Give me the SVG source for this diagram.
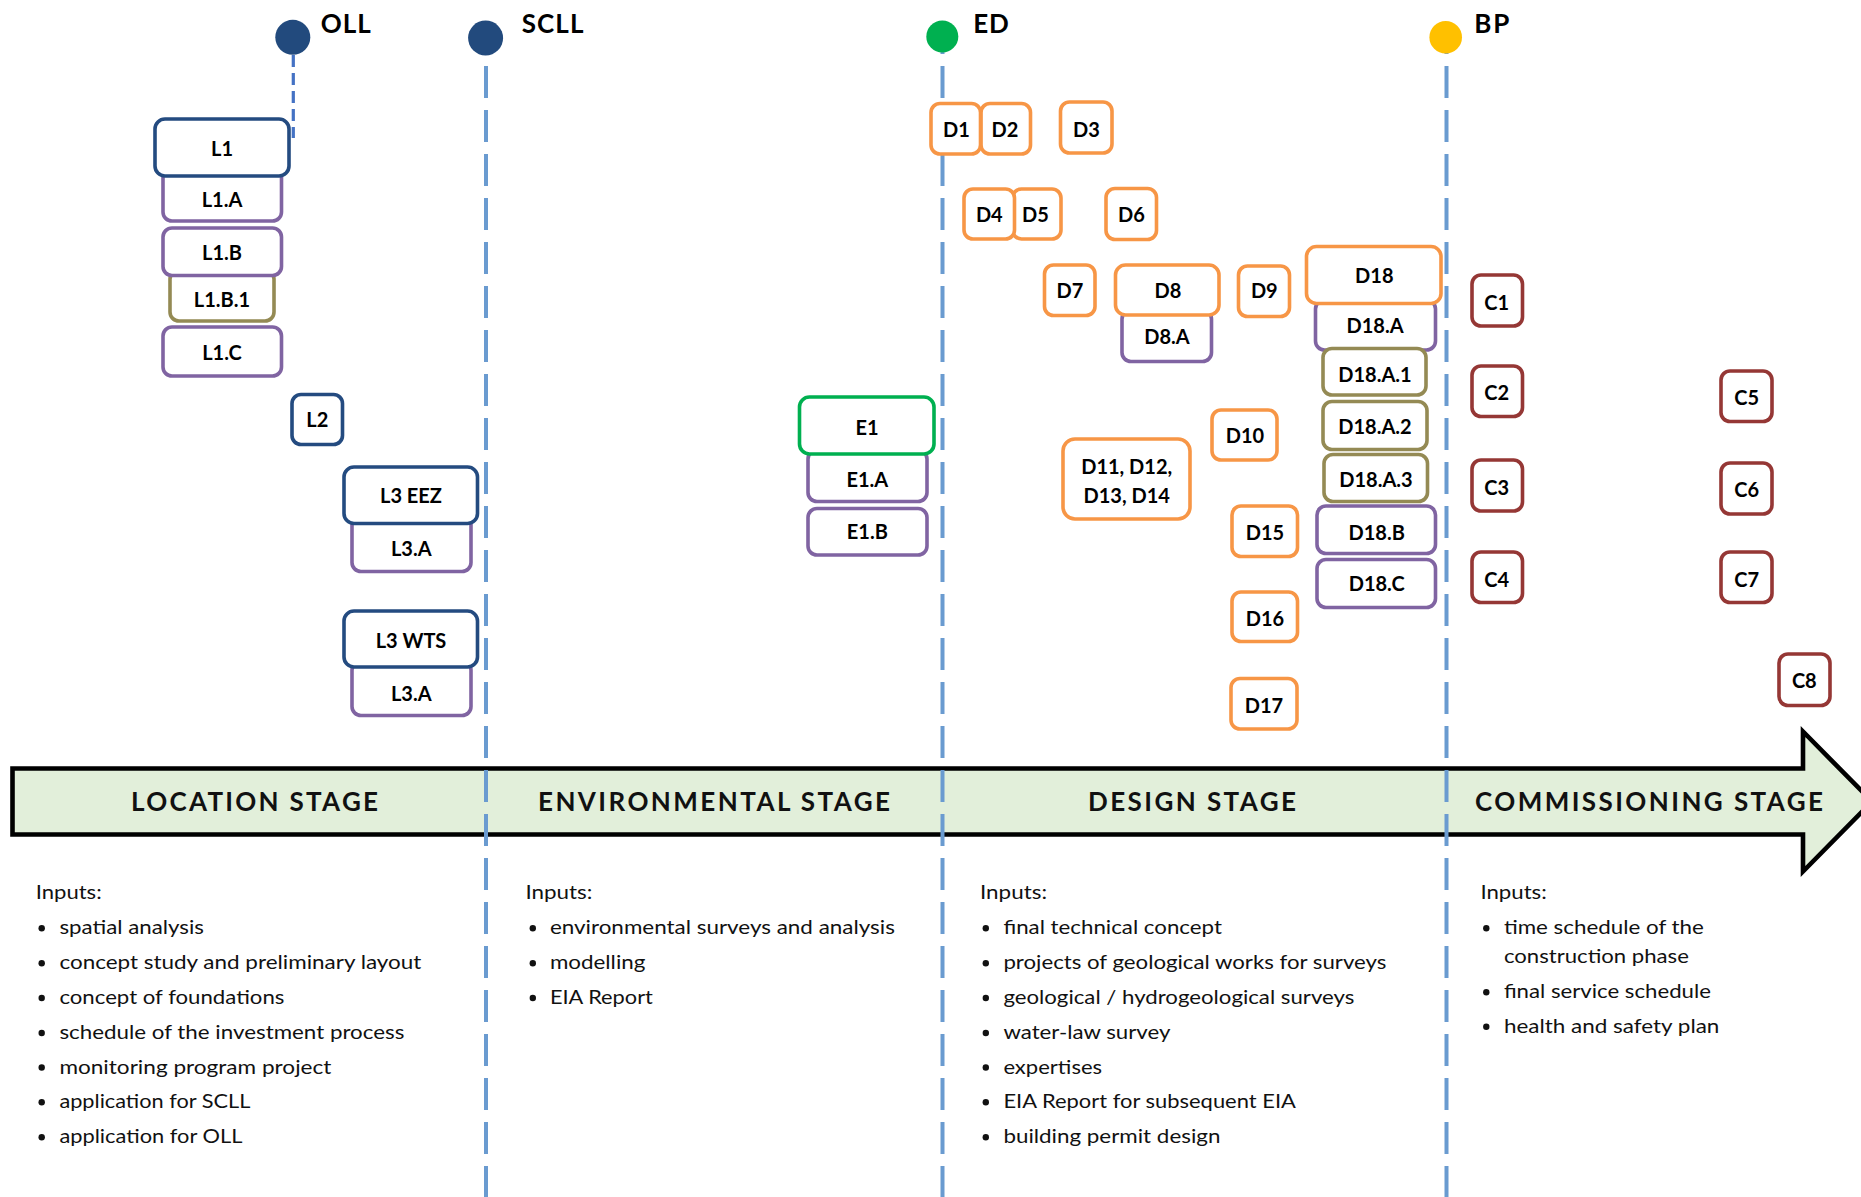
<svg xmlns="http://www.w3.org/2000/svg" width="1861" height="1197" viewBox="0 0 1861 1197">
<style>
.bx{fill:#fff;stroke-width:3.6}
.nv{stroke:#244B80}
.pu{stroke:#8064A2}
.ol{stroke:#948A54}
.or{stroke:#F79646}
.gr{stroke:#00B050}
.rd{stroke:#953735}
.lb{font-family:Lato,"Liberation Sans",sans-serif;font-weight:700;font-size:20px;fill:#000;text-anchor:middle}
.ms{font-family:Lato,"Liberation Sans",sans-serif;font-weight:700;font-size:26px;fill:#000}
.st{font-family:Lato,"Liberation Sans",sans-serif;font-weight:700;font-size:26px;fill:#111}
.tx{font-family:Lato,"Liberation Sans",sans-serif;font-size:20px;fill:#111}
.tl{fill:none;stroke:#6A9BD0;stroke-width:4;stroke-dasharray:32 12}
.dot{fill:#111}
</style>

<!-- stage arrow band -->
<g id="stage-arrow">
<polygon points="12.5,768.5 1803,768.5 1803,731.5 1872,801.5 1803,871.5 1803,834.5 12.5,834.5" fill="#E2EFDA" stroke="#000" stroke-width="4.6" stroke-linejoin="miter"/>
<text class="st" x="131" y="810.7" textLength="247" lengthAdjust="spacing">LOCATION STAGE</text>
<text class="st" x="538" y="810.7" textLength="352" lengthAdjust="spacing">ENVIRONMENTAL STAGE</text>
<text class="st" x="1088" y="810.7" textLength="208" lengthAdjust="spacing">DESIGN STAGE</text>
<text class="st" x="1475" y="810.7" textLength="348" lengthAdjust="spacing">COMMISSIONING STAGE</text>
</g>

<!-- timeline connectors -->
<g id="connectors">
<line x1="293.3" y1="55" x2="293.3" y2="138" stroke="#4472C4" stroke-width="3.2" stroke-dasharray="12 6"/>
<line class="tl" x1="486" y1="22" x2="486" y2="1197"/>
<line class="tl" x1="942.5" y1="22" x2="942.5" y2="1197"/>
<line class="tl" x1="1446.5" y1="22" x2="1446.5" y2="1197"/>
</g>

<!-- milestones -->
<g id="m-OLL"><circle cx="292.8" cy="37.3" r="17.5" fill="#224A7D"/><text class="ms" x="320.7" y="33.3" textLength="50" lengthAdjust="spacing">OLL</text></g>
<g id="m-SCLL"><circle cx="485.6" cy="38" r="17.5" fill="#224A7D"/><text class="ms" x="521.7" y="33.3" textLength="61.7" lengthAdjust="spacing">SCLL</text></g>
<g id="m-ED"><circle cx="942.3" cy="36.5" r="16" fill="#00B050"/><text class="ms" x="973.2" y="33.3" textLength="35.7" lengthAdjust="spacing">ED</text></g>
<g id="m-BP"><circle cx="1445.7" cy="37.3" r="16.3" fill="#FFC000"/><text class="ms" x="1474.3" y="33.3" textLength="35" lengthAdjust="spacing">BP</text></g>

<!-- location stage nodes -->
<g id="n-L1A"><rect class="bx pu" x="163" y="168" width="118.5" height="53" rx="9"/><text class="lb" x="222" y="206.7">L1.A</text></g>
<g id="n-L1B1"><rect class="bx ol" x="170" y="270" width="104" height="51" rx="9"/><text class="lb" x="222" y="307.3">L1.B.1</text></g>
<g id="n-L1B"><rect class="bx pu" x="163" y="228" width="118.5" height="47.5" rx="9"/><text class="lb" x="222" y="260">L1.B</text></g>
<g id="n-L1C"><rect class="bx pu" x="163" y="327" width="118.5" height="49" rx="9"/><text class="lb" x="222" y="360">L1.C</text></g>
<g id="n-L1"><rect class="bx nv" x="155" y="119" width="134" height="57" rx="10"/><text class="lb" x="222" y="155.7">L1</text></g>
<g id="n-L2"><rect class="bx nv" x="292" y="394.5" width="50.5" height="50" rx="9"/><text class="lb" x="317.3" y="426.7">L2</text></g>
<g id="n-L3A-1"><rect class="bx pu" x="352" y="515" width="119" height="56.5" rx="9"/><text class="lb" x="411.3" y="555.7">L3.A</text></g>
<g id="n-L3EEZ"><rect class="bx nv" x="344" y="467" width="133.5" height="56.5" rx="10"/><text class="lb" x="411" y="502.7">L3 EEZ</text></g>
<g id="n-L3A-2"><rect class="bx pu" x="352" y="661" width="119" height="54.5" rx="9"/><text class="lb" x="411.3" y="700.7">L3.A</text></g>
<g id="n-L3WTS"><rect class="bx nv" x="344" y="611" width="133.5" height="56" rx="10"/><text class="lb" x="411" y="647.7">L3 WTS</text></g>

<!-- environmental stage nodes -->
<g id="n-E1A"><rect class="bx pu" x="808" y="450" width="119" height="51.5" rx="9"/><text class="lb" x="867.3" y="487.3">E1.A</text></g>
<g id="n-E1B"><rect class="bx pu" x="808" y="508.5" width="119" height="46.5" rx="9"/><text class="lb" x="867.3" y="539.3">E1.B</text></g>
<g id="n-E1"><rect class="bx gr" x="799.5" y="397" width="134.5" height="57" rx="10"/><text class="lb" x="867" y="435">E1</text></g>

<!-- design stage nodes -->
<g id="n-D2"><rect class="bx or" x="981" y="103.5" width="49.5" height="50.5" rx="9"/><text class="lb" x="1005" y="136.7">D2</text></g>
<g id="n-D1"><rect class="bx or" x="931" y="103.5" width="49.5" height="50.5" rx="9"/><text class="lb" x="956.4" y="136.7">D1</text></g>
<g id="n-D3"><rect class="bx or" x="1060.5" y="102" width="51.5" height="51" rx="9"/><text class="lb" x="1086.4" y="136.7">D3</text></g>
<g id="n-D5"><rect class="bx or" x="1012.5" y="189" width="48.5" height="50" rx="9"/><text class="lb" x="1035.5" y="222.3">D5</text></g>
<g id="n-D4"><rect class="bx or" x="964" y="189" width="50.5" height="50" rx="9"/><text class="lb" x="989.3" y="222.3">D4</text></g>
<g id="n-D6"><rect class="bx or" x="1106" y="188.5" width="50.5" height="51" rx="9"/><text class="lb" x="1131.4" y="222.3">D6</text></g>
<g id="n-D7"><rect class="bx or" x="1044.5" y="265" width="50.5" height="50.5" rx="9"/><text class="lb" x="1070" y="298.3">D7</text></g>
<g id="n-D8A"><rect class="bx pu" x="1122" y="310" width="89.5" height="51.5" rx="9"/><text class="lb" x="1167" y="344.3">D8.A</text></g>
<g id="n-D8"><rect class="bx or" x="1115.5" y="265" width="103.5" height="50" rx="10"/><text class="lb" x="1167.9" y="298.3">D8</text></g>
<g id="n-D9"><rect class="bx or" x="1238.5" y="266" width="51" height="50.5" rx="9"/><text class="lb" x="1264.3" y="298.3">D9</text></g>
<g id="n-D18A"><rect class="bx pu" x="1315.5" y="300" width="120" height="50" rx="9"/><text class="lb" x="1375" y="333.3">D18.A</text></g>
<g id="n-D18"><rect class="bx or" x="1306.5" y="246.5" width="134.5" height="57" rx="10"/><text class="lb" x="1374.3" y="283.3">D18</text></g>
<g id="n-D18A1"><rect class="bx ol" x="1323" y="348.5" width="103" height="46.5" rx="9"/><text class="lb" x="1375" y="382.3">D18.A.1</text></g>
<g id="n-D18A2"><rect class="bx ol" x="1323" y="401.5" width="104" height="48" rx="9"/><text class="lb" x="1375" y="434.3">D18.A.2</text></g>
<g id="n-D18A3"><rect class="bx ol" x="1324" y="454.5" width="103.5" height="47" rx="9"/><text class="lb" x="1376" y="486.7">D18.A.3</text></g>
<g id="n-D18B"><rect class="bx pu" x="1317" y="506" width="118.5" height="47.5" rx="9"/><text class="lb" x="1376.7" y="540">D18.B</text></g>
<g id="n-D18C"><rect class="bx pu" x="1317" y="559.5" width="118.5" height="48" rx="9"/><text class="lb" x="1376.7" y="591">D18.C</text></g>
<g id="n-D10"><rect class="bx or" x="1212" y="410" width="65" height="50" rx="9"/><text class="lb" x="1245" y="443.3">D10</text></g>
<g id="n-D11-14"><rect class="bx or" x="1063" y="439" width="127" height="80" rx="12"/><text class="lb" x="1126.7" y="474.3">D11, D12,</text><text class="lb" x="1126.7" y="503.3">D13, D14</text></g>
<g id="n-D15"><rect class="bx or" x="1232" y="506" width="65.5" height="50.5" rx="9"/><text class="lb" x="1265" y="540">D15</text></g>
<g id="n-D16"><rect class="bx or" x="1232" y="592" width="65.5" height="49.5" rx="9"/><text class="lb" x="1265" y="626">D16</text></g>
<g id="n-D17"><rect class="bx or" x="1231" y="678.5" width="66" height="50.5" rx="9"/><text class="lb" x="1264" y="712.7">D17</text></g>

<!-- commissioning stage nodes -->
<g id="n-C1"><rect class="bx rd" x="1472" y="275" width="50.5" height="51" rx="9"/><text class="lb" x="1496.7" y="310">C1</text></g>
<g id="n-C2"><rect class="bx rd" x="1472" y="366" width="50.5" height="50.5" rx="9"/><text class="lb" x="1496.7" y="400">C2</text></g>
<g id="n-C3"><rect class="bx rd" x="1472" y="460" width="50.5" height="51" rx="9"/><text class="lb" x="1496.7" y="495">C3</text></g>
<g id="n-C4"><rect class="bx rd" x="1472" y="552" width="50.5" height="50.5" rx="9"/><text class="lb" x="1496.7" y="586.7">C4</text></g>
<g id="n-C5"><rect class="bx rd" x="1721" y="371" width="51" height="50.5" rx="9"/><text class="lb" x="1746.7" y="405">C5</text></g>
<g id="n-C6"><rect class="bx rd" x="1721" y="463" width="51" height="51" rx="9"/><text class="lb" x="1746.7" y="496.7">C6</text></g>
<g id="n-C7"><rect class="bx rd" x="1721" y="552" width="51" height="50.5" rx="9"/><text class="lb" x="1746.7" y="586.7">C7</text></g>
<g id="n-C8"><rect class="bx rd" x="1779" y="654" width="51" height="51.5" rx="9"/><text class="lb" x="1804.3" y="688.3">C8</text></g>

<!-- inputs text -->
<g id="inputs-location">
<text class="tx" x="35.7" y="899" textLength="66" lengthAdjust="spacingAndGlyphs">Inputs:</text>
<circle class="dot" cx="41.7" cy="928.3" r="3.2"/><text class="tx" x="59.4" y="934.3" textLength="144.5" lengthAdjust="spacingAndGlyphs">spatial analysis</text>
<circle class="dot" cx="41.7" cy="963.3" r="3.2"/><text class="tx" x="59.4" y="969.3" textLength="362" lengthAdjust="spacingAndGlyphs">concept study and preliminary layout</text>
<circle class="dot" cx="41.7" cy="998" r="3.2"/><text class="tx" x="59.4" y="1004" textLength="225" lengthAdjust="spacingAndGlyphs">concept of foundations</text>
<circle class="dot" cx="41.7" cy="1033" r="3.2"/><text class="tx" x="59.4" y="1039" textLength="345" lengthAdjust="spacingAndGlyphs">schedule of the investment process</text>
<circle class="dot" cx="41.7" cy="1067.5" r="3.2"/><text class="tx" x="59.4" y="1073.5" textLength="272" lengthAdjust="spacingAndGlyphs">monitoring program project</text>
<circle class="dot" cx="41.7" cy="1102.3" r="3.2"/><text class="tx" x="59.4" y="1108.3" textLength="191" lengthAdjust="spacingAndGlyphs">application for SCLL</text>
<circle class="dot" cx="41.7" cy="1137.3" r="3.2"/><text class="tx" x="59.4" y="1143.3" textLength="183" lengthAdjust="spacingAndGlyphs">application for OLL</text>
</g>
<g id="inputs-environmental">
<text class="tx" x="525.4" y="899" textLength="67" lengthAdjust="spacingAndGlyphs">Inputs:</text>
<circle class="dot" cx="532.8" cy="928.3" r="3.2"/><text class="tx" x="549.9" y="934.3" textLength="345" lengthAdjust="spacingAndGlyphs">environmental surveys and analysis</text>
<circle class="dot" cx="532.8" cy="963.3" r="3.2"/><text class="tx" x="549.9" y="969.3" textLength="95.5" lengthAdjust="spacingAndGlyphs">modelling</text>
<circle class="dot" cx="532.8" cy="998" r="3.2"/><text class="tx" x="549.9" y="1004" textLength="103" lengthAdjust="spacingAndGlyphs">EIA Report</text>
</g>
<g id="inputs-design">
<text class="tx" x="980" y="899" textLength="67" lengthAdjust="spacingAndGlyphs">Inputs:</text>
<circle class="dot" cx="985.8" cy="928.3" r="3.2"/><text class="tx" x="1003.4" y="934.3" textLength="218.5" lengthAdjust="spacingAndGlyphs">final technical concept</text>
<circle class="dot" cx="985.8" cy="963.3" r="3.2"/><text class="tx" x="1003.4" y="969.3" textLength="383" lengthAdjust="spacingAndGlyphs">projects of geological works for surveys</text>
<circle class="dot" cx="985.8" cy="998" r="3.2"/><text class="tx" x="1003.4" y="1004" textLength="351" lengthAdjust="spacingAndGlyphs">geological / hydrogeological surveys</text>
<circle class="dot" cx="985.8" cy="1033" r="3.2"/><text class="tx" x="1003.4" y="1039" textLength="167" lengthAdjust="spacingAndGlyphs">water-law survey</text>
<circle class="dot" cx="985.8" cy="1067.5" r="3.2"/><text class="tx" x="1003.4" y="1073.5" textLength="98.7" lengthAdjust="spacingAndGlyphs">expertises</text>
<circle class="dot" cx="985.8" cy="1102.3" r="3.2"/><text class="tx" x="1003.4" y="1108.3" textLength="292.5" lengthAdjust="spacingAndGlyphs">EIA Report for subsequent EIA</text>
<circle class="dot" cx="985.8" cy="1137.3" r="3.2"/><text class="tx" x="1003.4" y="1143.3" textLength="217" lengthAdjust="spacingAndGlyphs">building permit design</text>
</g>
<g id="inputs-commissioning">
<text class="tx" x="1480.4" y="899" textLength="66.4" lengthAdjust="spacingAndGlyphs">Inputs:</text>
<circle class="dot" cx="1486.3" cy="928.3" r="3.2"/><text class="tx" x="1503.9" y="934.3" textLength="200" lengthAdjust="spacingAndGlyphs">time schedule of the</text>
<text class="tx" x="1503.9" y="963.3" textLength="185" lengthAdjust="spacingAndGlyphs">construction phase</text>
<circle class="dot" cx="1486.3" cy="992.3" r="3.2"/><text class="tx" x="1503.9" y="998.3" textLength="207" lengthAdjust="spacingAndGlyphs">final service schedule</text>
<circle class="dot" cx="1486.3" cy="1026.7" r="3.2"/><text class="tx" x="1503.9" y="1032.7" textLength="215.5" lengthAdjust="spacingAndGlyphs">health and safety plan</text>
</g>
</svg>
